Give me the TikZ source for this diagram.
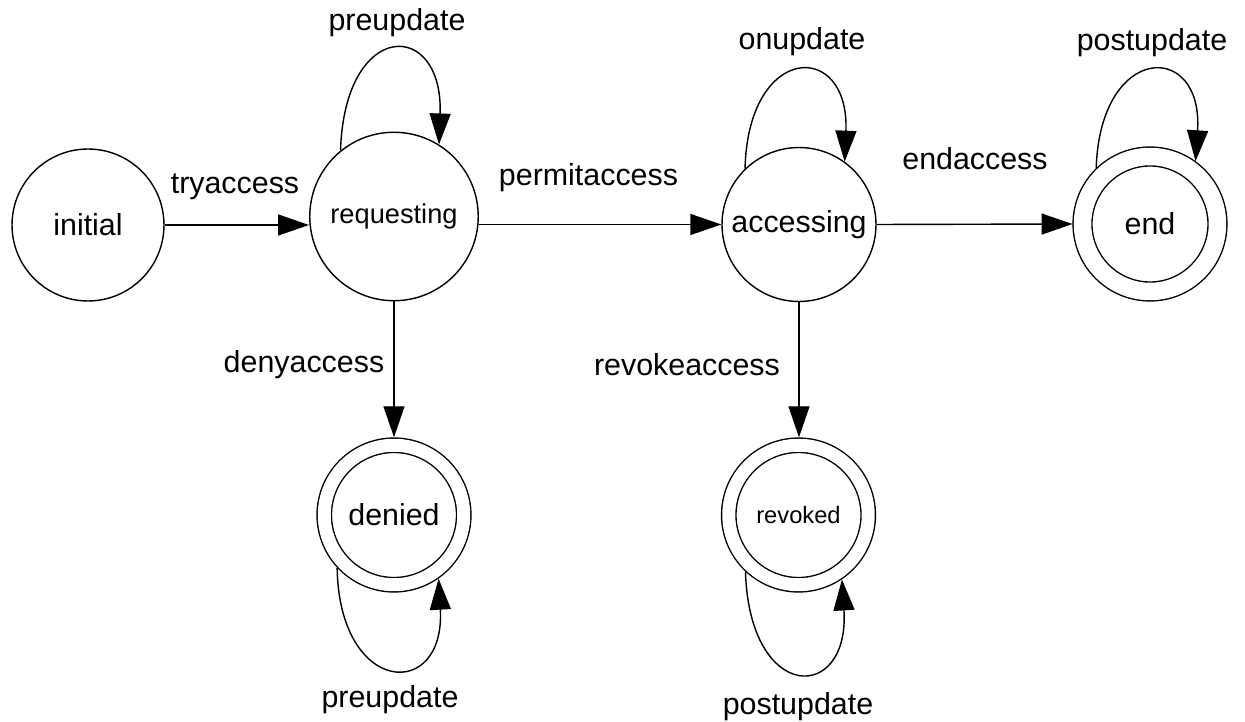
\documentclass[tikz,border=0pt]{standalone}
\usepackage{fontspec}
\setmainfont{Liberation Sans}
\usetikzlibrary{arrows.meta}

\begin{document}
\begin{tikzpicture}[x=0.02cm, y=-0.02cm, >={Triangle[length=6.2mm, width=4.2mm]},
    font=\fontsize{17.3}{20}\selectfont]

    % estilos
    \tikzstyle{state}=[circle, draw, line width=0.8pt, minimum size=3.04cm, inner sep=0pt]
    \tikzstyle{finalstate}=[circle, draw, line width=0.8pt, double, double distance=0.26cm,
        minimum size=2.79cm, inner sep=0pt, outer sep=0.16cm]
    \tikzstyle{trans}=[->, line width=0.8pt]

    \path[use as bounding box, fill=white] (0,0) rectangle (1245,722);

    % estados
    \node[state] (initial) at (88,225) {initial};
    \node[state, minimum size=3.37cm, font=\fontsize{15.5}{18}\selectfont] (requesting) at (394,216.5) {requesting};
    \node[state, minimum size=3.08cm] (accessing) at (799,224.5) {accessing};

    % estados finais
    \node[finalstate, double distance=0.35cm, minimum size=2.7cm, outer sep=0.2cm] (end) at (1150,224) {end};
    \node[finalstate] (denied) at (394,515) {denied};
    \node[finalstate, font=\fontsize{13.5}{16}\selectfont] (revoked) at (798.5,515) {revoked};

    % transições
    \draw[trans] (initial.east) -- (initial.east -| requesting.west);
    \draw[trans] (accessing.west -| requesting.east) -- (accessing.west);
    \draw[trans] (accessing.east) -- (end.west);
    \draw[trans] (requesting.south) -- (denied.north);
    \draw[trans] (accessing.south) -- (accessing.south |- revoked.north);

    % laços
    \draw[trans] (requesting.129) .. controls +(4,-132) and +(4.5,-126) .. (requesting.58);
    \draw[trans] (accessing.134) .. controls +(3,-126) and +(5,-122) .. (accessing.54);
    \draw[trans] (end.134) .. controls +(4,-126) and +(8,-121) .. (end.54);
    \draw[trans] (denied.223) .. controls +(2,128) and +(7,123) .. (denied.305);
    \draw[trans] (revoked.227) .. controls +(4,132) and +(8,124) .. (revoked.304);

    % rótulos
    \node (ltry) at (235,187) {tryaccess};
    \node (lpermit) at (588.5,178) {permitaccess};
    \node (lend) at (975,159) {endaccess};
    \node (ldeny) at (304,365) {denyaccess};
    \node (lrevoke) at (687,365) {revokeaccess};
    \node (lpre) at (397,23) {preupdate};
    \node (lon) at (802,42) {onupdate};
    \node (lpostend) at (1152,43) {postupdate};
    \node (lpredenied) at (390,700) {preupdate};
    \node (lpostrevoked) at (798,707) {postupdate};

\end{tikzpicture}
\end{document}
